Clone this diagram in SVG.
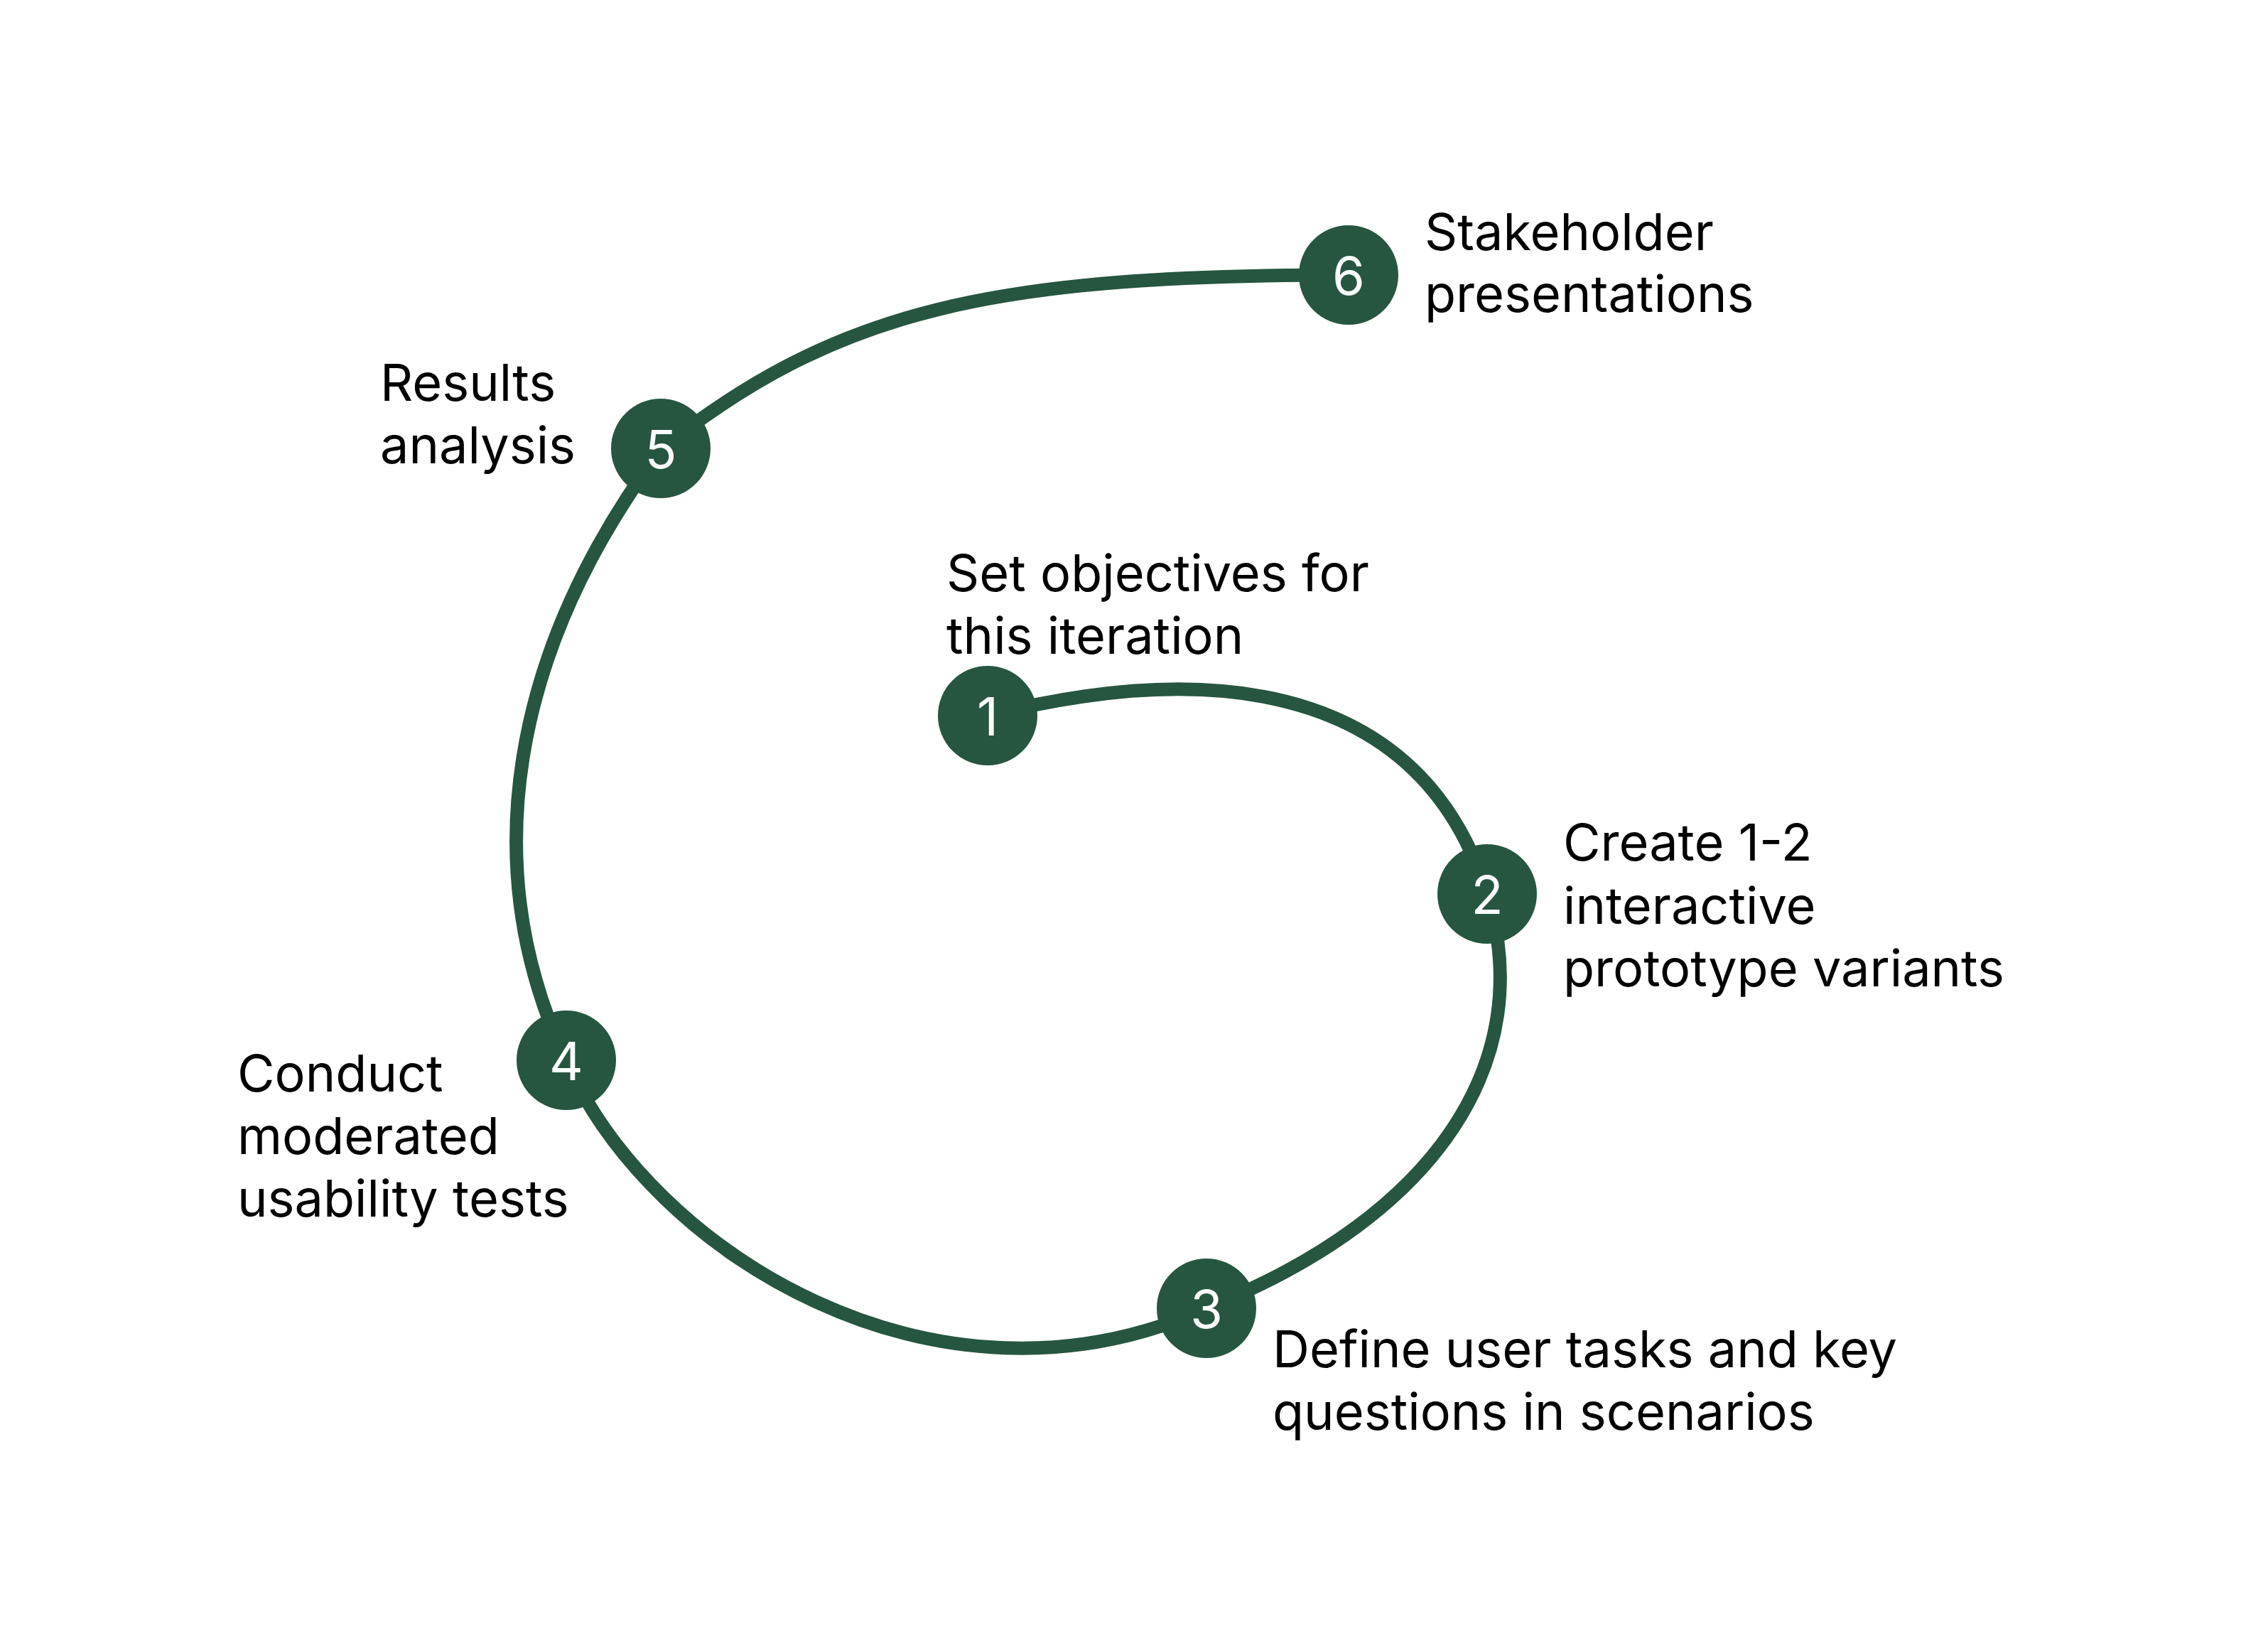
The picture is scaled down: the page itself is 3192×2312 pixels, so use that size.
<svg xmlns="http://www.w3.org/2000/svg" width="3192" height="2312" viewBox="0 0 3192 2312">
<style>
.bg{fill:#ffffff}
.conn{fill:none;stroke:#26563F;stroke-width:19;stroke-linecap:round;stroke-linejoin:round}
.dot{fill:#26563F}
.num{font-family:Inter,"Noto Sans","Liberation Sans",sans-serif;font-size:74px;fill:#ffffff;text-anchor:middle}
.lbl{font-family:Inter,"Noto Sans","Liberation Sans",sans-serif;font-size:72px;fill:#000000}
</style>
<rect class="bg" x="0" y="0" width="3192" height="2312"/>
<g id="connectors">
<path id="c1-2" class="conn" d="M1390,1007 C1750,917 2009,988 2093,1258"/>
<path id="c2-3" class="conn" d="M2093,1258 C2164,1488 2028,1709 1698,1841"/>
<path id="c3-4" class="conn" d="M1698,1841 C1318,2012 916,1763 797,1493"/>
<path id="c4-5" class="conn" d="M797,1493 C668,1218 719,917 930,632"/>
<path id="c5-6" class="conn" d="M930,632 C1180,434.5 1398,387 1898,387"/>
</g>
<g id="node1">
<circle class="dot" cx="1390" cy="1007" r="70"/>
<text class="num" x="1390" y="1035">1</text>
<text class="lbl" x="1332" y="832">Set objectives for</text>
<text class="lbl" x="1332" y="920">this iteration</text>
</g>
<g id="node2">
<circle class="dot" cx="2093" cy="1258" r="70"/>
<text class="num" x="2093" y="1286">2</text>
<text class="lbl" x="2200" y="1211">Create 1-2</text>
<text class="lbl" x="2200" y="1300">interactive</text>
<text class="lbl" x="2200" y="1388">prototype variants</text>
</g>
<g id="node3">
<circle class="dot" cx="1698" cy="1841" r="70"/>
<text class="num" x="1698" y="1869">3</text>
<text class="lbl" x="1791" y="1924">Define user tasks and key</text>
<text class="lbl" x="1791" y="2012">questions in scenarios</text>
</g>
<g id="node4">
<circle class="dot" cx="797" cy="1492" r="70"/>
<text class="num" x="797" y="1520">4</text>
<text class="lbl" x="334" y="1536">Conduct</text>
<text class="lbl" x="334" y="1624">moderated</text>
<text class="lbl" x="334" y="1712">usability tests</text>
</g>
<g id="node5">
<circle class="dot" cx="930" cy="631" r="70"/>
<text class="num" x="930" y="659">5</text>
<text class="lbl" x="535" y="564">Results</text>
<text class="lbl" x="535" y="652">analysis</text>
</g>
<g id="node6">
<circle class="dot" cx="1898" cy="387" r="70"/>
<text class="num" x="1898" y="415">6</text>
<text class="lbl" x="2005" y="352">Stakeholder</text>
<text class="lbl" x="2005" y="439">presentations</text>
</g>
</svg>
